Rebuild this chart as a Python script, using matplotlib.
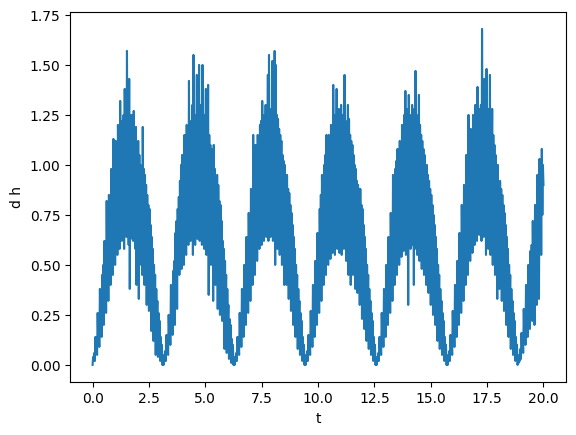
import numpy as np
import matplotlib
matplotlib.use("Agg")
import matplotlib.pyplot as plt

hump1 = [0.00, 0.04, 0.02, 0.06, 0.02, 0.14, 0.07, 0.12, 0.05, 0.26, 0.13, 0.22,
         0.09, 0.38, 0.20, 0.34, 0.14, 0.45, 0.28, 0.50, 0.20, 0.62, 0.38, 0.58,
         0.26, 0.82, 0.46, 0.72, 0.32, 0.85, 0.55, 0.80, 0.40, 0.98, 0.64, 0.95,
         0.45, 1.13, 0.72, 1.05, 0.50, 1.12, 0.85, 1.05, 0.55, 1.20, 0.90, 1.15,
         0.58, 1.32, 0.95, 1.18, 0.62, 1.22, 0.98, 1.25, 0.58, 1.38, 1.00, 1.20,
         0.64, 1.57, 1.02, 1.25,
         0.60, 1.43, 0.38, 1.22, 0.63, 1.25, 1.00, 1.20, 0.62, 1.27, 0.95, 1.15,
         0.58, 1.19, 0.40, 1.10, 0.55, 1.12, 0.33, 1.05, 0.50, 1.00, 0.55, 0.95,
         0.45, 1.19, 0.70, 0.98, 0.40, 0.95, 0.62, 0.90, 0.30, 0.85, 0.55, 0.80,
         0.27, 0.78, 0.46, 0.70, 0.17, 0.64, 0.38, 0.58, 0.12, 0.50, 0.28, 0.45,
         0.05, 0.38, 0.20, 0.32, 0.04, 0.26, 0.13, 0.22, 0.02, 0.14, 0.07, 0.10,
         0.00, 0.03]
hump2 = [0.00, 0.05, 0.02, 0.07, 0.02, 0.15, 0.07, 0.13, 0.05, 0.25, 0.14, 0.22,
         0.10, 0.40, 0.20, 0.36, 0.15, 0.47, 0.28, 0.52, 0.20, 0.66, 0.38, 0.72,
         0.28, 0.78, 0.46, 0.84, 0.45, 0.92, 0.55, 1.00, 0.48, 1.05, 0.64, 1.00,
         0.50, 1.15, 0.72, 1.10, 0.55, 1.20, 0.85, 1.10, 0.60, 1.42, 0.90, 1.15,
         0.62, 1.22, 0.95, 1.30, 0.55, 1.55, 0.98, 1.20, 0.60, 1.25, 1.00, 1.45,
         0.63, 1.22, 1.02, 1.50,
         0.62, 1.30, 0.95, 1.20, 0.60, 1.50, 0.92, 1.22, 0.58, 1.25, 0.90, 1.38,
         0.55, 1.20, 0.85, 1.40, 0.35, 1.15, 0.80, 1.10, 0.50, 1.05, 0.75, 1.08,
         0.32, 1.10, 0.70, 0.98, 0.40, 0.92, 0.62, 0.95, 0.28, 0.90, 0.55, 0.82,
         0.25, 0.80, 0.46, 0.72, 0.22, 0.62, 0.38, 0.58, 0.08, 0.52, 0.28, 0.45,
         0.06, 0.38, 0.20, 0.30, 0.03, 0.23, 0.12, 0.20, 0.01, 0.13, 0.06, 0.10,
         0.00, 0.03]
hump3 = [0.00, 0.04, 0.02, 0.06, 0.02, 0.14, 0.07, 0.12, 0.05, 0.26, 0.13, 0.22,
         0.09, 0.38, 0.20, 0.34, 0.14, 0.50, 0.28, 0.45, 0.20, 0.64, 0.38, 0.58,
         0.26, 0.76, 0.46, 0.72, 0.32, 0.88, 0.55, 0.82, 0.40, 1.15, 0.64, 0.98,
         0.45, 1.10, 0.72, 1.05, 0.52, 1.15, 0.80, 1.10, 0.58, 1.20, 0.88, 1.22,
         0.60, 1.32, 0.92, 1.18, 0.62, 1.25, 0.95, 1.30, 0.64, 1.20, 0.98, 1.45,
         0.62, 1.55, 1.00, 1.25,
         0.64, 1.28, 0.98, 1.52, 0.62, 1.22, 0.95, 1.57, 0.50, 1.50, 0.92, 1.25,
         0.58, 1.23, 0.88, 1.18, 0.55, 1.15, 0.85, 1.12, 0.50, 1.05, 0.78, 1.02,
         0.40, 1.00, 0.70, 0.95, 0.40, 0.95, 0.62, 0.88, 0.33, 0.86, 0.55, 0.80,
         0.27, 0.76, 0.46, 0.70, 0.20, 0.64, 0.38, 0.58, 0.14, 0.50, 0.28, 0.45,
         0.08, 0.38, 0.20, 0.32, 0.05, 0.26, 0.13, 0.22, 0.02, 0.14, 0.07, 0.10,
         0.00, 0.03]
hump4 = [0.00, 0.05, 0.02, 0.07, 0.02, 0.15, 0.07, 0.12, 0.05, 0.27, 0.13, 0.22,
         0.09, 0.40, 0.20, 0.34, 0.14, 0.52, 0.28, 0.47, 0.20, 0.66, 0.38, 0.60,
         0.26, 0.78, 0.46, 0.85, 0.32, 0.95, 0.55, 0.88, 0.40, 1.00, 0.64, 1.05,
         0.45, 1.15, 0.72, 1.08, 0.50, 1.15, 0.80, 1.10, 0.53, 1.20, 0.85, 1.18,
         0.56, 1.40, 0.90, 1.22, 0.55, 1.25, 0.92, 1.38, 0.58, 1.20, 0.95, 1.28,
         0.56, 1.22, 0.92, 1.30,
         0.55, 1.25, 0.90, 1.20, 0.58, 1.45, 0.88, 1.22, 0.52, 1.20, 0.85, 1.30,
         0.45, 1.23, 0.80, 1.15, 0.40, 1.12, 0.75, 1.10, 0.45, 1.05, 0.70, 1.00,
         0.38, 0.98, 0.65, 0.92, 0.36, 0.90, 0.58, 0.88, 0.30, 0.88, 0.52, 0.80,
         0.23, 0.78, 0.45, 0.70, 0.18, 0.64, 0.38, 0.58, 0.12, 0.50, 0.28, 0.45,
         0.08, 0.38, 0.20, 0.32, 0.05, 0.26, 0.13, 0.22, 0.02, 0.14, 0.07, 0.10,
         0.00, 0.03]
hump5 = [0.00, 0.04, 0.02, 0.06, 0.02, 0.14, 0.07, 0.12, 0.05, 0.26, 0.13, 0.22,
         0.09, 0.38, 0.20, 0.34, 0.14, 0.50, 0.28, 0.45, 0.20, 0.64, 0.38, 0.60,
         0.26, 0.76, 0.46, 0.72, 0.32, 0.95, 0.55, 0.85, 0.40, 0.98, 0.64, 1.02,
         0.45, 1.08, 0.72, 1.05, 0.50, 1.12, 0.78, 1.05, 0.54, 1.20, 0.85, 1.15,
         0.57, 1.25, 0.88, 1.37, 0.55, 1.22, 0.90, 1.28, 0.30, 1.35, 0.92, 1.20,
         0.58, 1.25, 0.95, 1.30,
         0.60, 1.22, 0.40, 1.28, 0.58, 1.47, 0.92, 1.25, 0.55, 1.22, 0.88, 1.35,
         0.52, 1.20, 0.85, 1.15, 0.48, 1.12, 0.80, 1.08, 0.45, 1.05, 0.75, 1.00,
         0.40, 1.00, 0.68, 0.95, 0.36, 0.92, 0.60, 0.88, 0.30, 0.85, 0.52, 0.80,
         0.25, 0.75, 0.45, 0.70, 0.20, 0.64, 0.38, 0.58, 0.12, 0.50, 0.28, 0.45,
         0.08, 0.38, 0.20, 0.32, 0.05, 0.26, 0.13, 0.22, 0.02, 0.14, 0.07, 0.10,
         0.00, 0.03]
hump6 = [0.00, 0.05, 0.02, 0.07, 0.02, 0.15, 0.07, 0.12, 0.05, 0.27, 0.13, 0.22,
         0.09, 0.40, 0.20, 0.34, 0.14, 0.52, 0.28, 0.47, 0.20, 0.66, 0.38, 0.60,
         0.26, 0.80, 0.46, 0.74, 0.32, 0.90, 0.55, 0.85, 0.40, 1.05, 0.64, 1.00,
         0.45, 1.25, 0.72, 1.10, 0.52, 1.18, 0.82, 1.12, 0.56, 1.25, 0.88, 1.20,
         0.60, 1.30, 0.92, 1.22, 0.62, 1.39, 0.95, 1.25, 0.65, 1.28, 0.98, 1.30,
         0.62, 1.68, 1.00, 1.28,
         0.64, 1.43, 0.95, 1.25, 0.55, 1.48, 0.92, 1.22, 0.58, 1.28, 0.90, 1.45,
         0.55, 1.20, 0.85, 1.28, 0.50, 1.15, 0.80, 1.10, 0.45, 1.05, 0.75, 1.00,
         0.33, 1.00, 0.68, 0.90, 0.38, 0.92, 0.62, 0.88, 0.32, 0.85, 0.55, 0.80,
         0.27, 0.76, 0.46, 0.70, 0.20, 0.64, 0.38, 0.58, 0.14, 0.50, 0.28, 0.45,
         0.08, 0.38, 0.20, 0.32, 0.05, 0.26, 0.13, 0.22, 0.02, 0.14, 0.07, 0.10,
         0.00, 0.03]
hump7 = [0.01, 0.05, 0.02, 0.08, 0.03, 0.16, 0.08, 0.14, 0.06, 0.28, 0.14, 0.24,
         0.10, 0.40, 0.20, 0.36, 0.14, 0.50, 0.28, 0.46, 0.18, 0.57, 0.35, 0.60,
         0.22, 0.72, 0.42, 0.68, 0.20, 0.80, 0.50, 0.78, 0.30, 0.95, 0.58, 0.90,
         0.33, 1.03, 0.65, 0.98, 0.55, 1.08, 0.75, 1.00, 0.90]

dh = np.array(hump1 + hump2 + hump3 + hump4 + hump5 + hump6 + hump7)
t = np.linspace(0.0, 20.0, len(dh))

fig, ax = plt.subplots(figsize=(6.4, 4.8), dpi=100)
ax.plot(t, dh)
ax.set_xlabel("t")
ax.set_ylabel("d h")
fig.savefig("out.png", dpi=100, bbox_inches="tight")
